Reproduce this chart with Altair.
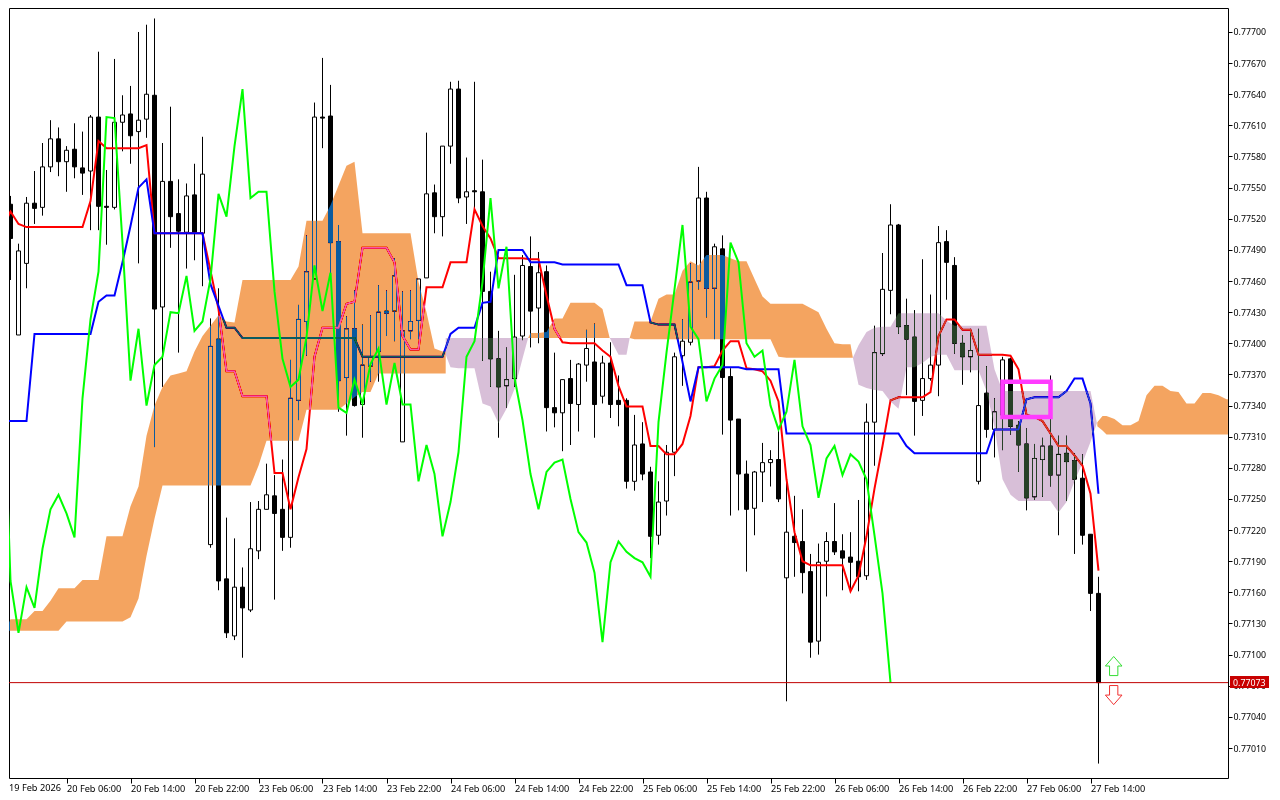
import json
import altair as alt
import pandas as pd

# All prices in 1e-5 units (points)
OPEN = [77588,77534,77408,77477,77535,77531,77570,77597,77575,77587,
77569,77566,77618,77532,77531,77613,77621,77604,77616,77639,
77435,77556,77525,77507,77543,77506,77206,77404,77173,77118,
77165,77143,77200,77240,77253,77240,77213,77345,77421,77462,
77618,77619,77498,77367,77414,77341,77378,77392,77431,77431,
77305,77412,77422,77463,77545,77522,77590,77645,77541,77547,
77546,77450,77385,77359,77366,77407,77474,77434,77469,77338,
77333,77366,77341,77379,77382,77349,77381,77345,77345,77267,
77303,77276,77215,77248,77295,77388,77401,77460,77540,77453,
77491,77368,77327,77274,77241,77276,77285,77288,77174,77214,
77209,77180,77113,77190,77209,77200,77194,77190,77176,77324,
77390,77451,77514,77417,77406,77345,77366,77379,77498,77475,
77400,77387,77267,77352,77317,77331,77385,77321,77303,77252,
77288,77301,77273,77294,77287,77270,77216,77159]
HIGH = [77588,77542,77496,77541,77566,77593,77615,77608,77590,77612,
77604,77620,77681,77567,77674,77639,77648,77700,77707,77713,
77593,77628,77558,77554,77573,77599,77424,77453,77232,77212,
77184,77247,77248,77284,77273,77288,77384,77437,77504,77632,
77675,77649,77514,77426,77451,77418,77427,77456,77451,77482,
77450,77451,77462,77603,77553,77590,77652,77653,77579,77652,
77577,77469,77412,77396,77466,77485,77503,77488,77475,77391,
77365,77384,77381,77413,77419,77388,77401,77369,77347,77331,
77324,77281,77267,77302,77391,77423,77477,77570,77546,77496,
77504,77376,77327,77287,77277,77304,77297,77316,77267,77253,
77240,77197,77207,77218,77246,77216,77218,77249,77342,77417,
77487,77534,77515,77443,77432,77481,77447,77513,77509,77483,
77408,77414,77414,77378,77347,77387,77386,77325,77318,77303,
77309,77369,77311,77311,77294,77293,77216,77175]
LOW = [77508,77461,77408,77453,77515,77523,77565,77561,77546,77559,
77543,77509,77509,77495,77529,77585,77573,77477,77598,77300,
77358,77492,77391,77472,77480,77455,77203,77162,77116,77114,
77097,77141,77192,77240,77153,77200,77203,77326,77388,77462,
77588,77460,77334,77311,77339,77309,77363,77363,77407,77402,
77305,77404,77404,77463,77506,77503,77573,77535,77515,77530,
77383,77358,77309,77338,77358,77403,77396,77400,77315,77319,
77296,77302,77315,77363,77309,77342,77328,77320,77260,77258,
77268,77193,77206,77234,77272,77359,77398,77452,77425,77404,
77312,77234,77239,77180,77215,77247,77262,77247,77055,77175,
77159,77097,77100,77156,77196,77162,77163,77161,77172,77282,
77388,77428,77409,77350,77311,77330,77364,77349,77442,77390,
77360,77372,77264,77309,77290,77297,77312,77276,77239,77249,
77252,77262,77215,77248,77197,77206,77142,76995]
CLOSE = [77532,77501,77489,77535,77530,77570,77597,77575,77586,77570,
77564,77618,77532,77531,77613,77620,77600,77615,77640,77433,
77556,77522,77508,77542,77506,77563,77397,77171,77121,77165,
77145,77202,77240,77254,77236,77213,77347,77423,77469,77618,
77617,77497,77364,77414,77340,77379,77387,77430,77429,77465,
77412,77421,77462,77544,77522,77590,77645,77540,77546,77546,
77450,77385,77358,77365,77406,77475,77431,77468,77338,77333,
77365,77342,77380,77395,77341,77381,77341,77341,77267,77302,
77274,77214,77247,77295,77387,77402,77459,77540,77453,77493,
77367,77326,77274,77240,77276,77285,77288,77250,77218,77208,
77179,77112,77189,77209,77199,77193,77189,77175,77324,77391,
77452,77514,77416,77404,77344,77366,77379,77497,77478,77400,
77387,77393,77340,77317,77334,77384,77320,77302,77251,77289,
77301,77273,77293,77286,77269,77215,77159,77073]

TENKAN = [77511,77527,77515,77512,77512,77512,77512,77512,77512,77512,
77512,77537,77595,77588,77588,77588,77588,77588,77591,77506,
77506,77506,77506,77506,77506,77506,77470,77433,77373,77373,
77349,77349,77349,77349,77275,77275,77240,77271,77298,77387,
77415,77415,77415,77438,77440,77492,77492,77492,77492,77478,
77407,77394,77394,77454,77454,77454,77478,77478,77478,77529,
77513,77501,77482,77482,77482,77482,77481,77481,77446,77414,
77401,77400,77400,77400,77400,77393,77387,77359,77339,77339,
77339,77301,77301,77293,77293,77303,77330,77377,77377,77378,
77393,77402,77402,77376,77375,77373,77364,77344,77269,77218,
77190,77186,77186,77186,77186,77186,77161,77176,77214,77260,
77301,77345,77348,77348,77348,77348,77353,77407,77423,77423,
77413,77413,77389,77389,77389,77389,77388,77375,77331,77329,
77325,77313,77301,77301,77292,77282,77255,77181]
KIJUN = [77325,77325,77325,77325,77409,77409,77409,77409,77409,77409,
77409,77409,77440,77446,77446,77478,77513,77550,77558,77506,
77506,77506,77506,77506,77506,77506,77457,77436,77415,77415,
77405,77405,77405,77405,77405,77405,77405,77405,77405,77405,
77405,77405,77405,77405,77405,77387,77387,77387,77387,77387,
77387,77387,77387,77387,77387,77387,77409,77415,77415,77415,
77439,77440,77490,77490,77490,77490,77478,77478,77478,77478,
77476,77476,77476,77476,77476,77476,77476,77476,77456,77456,
77456,77420,77418,77418,77418,77382,77344,77377,77377,77377,
77377,77377,77377,77375,77375,77375,77375,77375,77313,77313,
77313,77313,77313,77313,77313,77313,77313,77313,77313,77313,
77313,77313,77313,77301,77294,77294,77294,77294,77294,77294,
77294,77294,77294,77294,77317,77317,77317,77317,77346,77348,
77348,77348,77348,77354,77366,77366,77342,77255]
CHIKOU = [77397,77171,77121,77165,
77145,77202,77240,77254,77236,77213,77347,77423,77469,77618,
77617,77497,77364,77414,77340,77379,77387,77430,77429,77465,
77412,77421,77462,77544,77522,77590,77645,77540,77546,77546,
77450,77385,77358,77365,77406,77475,77431,77468,77338,77333,
77365,77342,77380,77395,77341,77381,77341,77341,77267,77302,
77274,77214,77247,77295,77387,77402,77459,77540,77453,77493,
77367,77326,77274,77240,77276,77285,77288,77250,77218,77208,
77179,77112,77189,77209,77199,77193,77189,77175,77324,77391,
77452,77514,77416,77404,77344,77366,77379,77497,77478,77400,
77387,77393,77340,77317,77334,77384,77320,77302,77251,77289,
77301,77273,77293,77286,77269,77215,77159,77073]

# Cloud segments: bar position, upper edge, lower edge
OA_X = [0.82]+list(range(1,56))+[55.4]
OA_UP = [77131,
77134,77134,77134,77142,77142,77152,77164,77164,77164,77172,
77172,77172,77214,77214,77214,77243,77262,77311,77340,77358,
77369,77371,77373,77392,77407,77417,77427,77421,77420,77461,
77461,77461,77461,77461,77461,77461,77474,77518,77518,77518,
77533,77552,77571,77575,77506,77506,77506,77506,77506,77506,
77506,77459,77430,77395,77392,77392]
OA_LO = [77123,
77123,77123,77123,77123,77123,77123,77123,77132,77132,77132,
77132,77132,77132,77132,77132,77136,77154,77195,77231,77263,
77263,77263,77263,77263,77263,77263,77263,77263,77263,77263,
77263,77282,77306,77306,77306,77306,77306,77336,77336,77336,
77336,77336,77342,77348,77353,77353,77371,77371,77371,77371,
77371,77371,77371,77371,77371,77371]
PA_X = [55.4,56,57,58,59,60,61,62,63,64,65,65.7]
PA_UP = [77405]*12
PA_LO = [77389,77377,77376,77376,77376,77342,77339,77323,77337,77356,77385,77405]
OB_X = [65.7,66,67,68,69,70,71,72,73,74,75,75.9]
OB_UP = [77405,77410,77410,77411,77424,77424,77439,77439,77439,77439,77433,77405]
OB_LO = [77405]*12
PB_X = [75.9,76,77,78,78.4]
PB_UP = [77405]*5
PB_LO = [77405,77404,77389,77389,77405]
OC_X = [78.4,79,80,81,82,83,84,85,86,87,88,89,90,91,92,93,94,95,96,97,98,99,100,101,102,103,104,105,106,106.3]
OC_UP = [77405,77421,77421,77421,77443,77447,77447,77470,77479,77475,77485,77485,77485,77482,77479,77479,77462,77445,77438,77438,77438,77438,77438,77434,77430,77414,77400,77399,77399,77386]
OC_LO = [77405,77404,77404,77404,77404,77404,77404,77404,77404,77404,77404,77404,77404,77404,77404,77404,77404,77404,77404,77387,77386,77386,77386,77386,77386,77386,77386,77386,77386,77386]
PC_X = [106.3]+list(range(107,137))+[136.8]
PC_UP = [77386,77398,77411,77415,77416,77416,77429,77429,77429,77429,77429,77429,77422,77417,77417,77417,77417,77417,77375,77354,77354,77354,77354,77354,77354,77354,77354,77354,77354,77354,77354,77323]
PC_LO = [77386,77360,77357,77355,77354,77344,77337,77377,77377,77381,77387,77389,77389,77374,77374,77374,77374,77354,77319,77269,77254,77248,77248,77248,77248,77248,77237,77247,77267,77285,77305,77323]
OD_X = [136.85,137.5,138,139,140,141,142,143,144,145,146,147,148,149,150,151,152,153,153.18]
OD_UP = [77324,77330,77330,77327,77321,77321,77325,77350,77359,77359,77354,77353,77342,77342,77352,77352,77350,77346,77346]
OD_LO = [77320,77316,77312,77312,77312,77312,77312,77312,77312,77312,77312,77312,77312,77312,77312,77312,77312,77312,77312]

Y_TICKS = [0.77010,0.77040,0.77070,0.77100,0.77130,0.77160,0.77190,0.77220,0.77250,0.77280,0.77310,0.77340,
           0.77370,0.77400,0.77430,0.77460,0.77490,0.77520,0.77550,0.77580,0.77610,0.77640,0.77670,0.77700]
X_TICKS = [8,16,24,32,40,48,56,64,72,80,88,96,104,112,120,128,136]
X_LABELS = ["20 Feb 06:00","20 Feb 14:00","20 Feb 22:00","23 Feb 06:00","23 Feb 14:00","23 Feb 22:00",
            "24 Feb 06:00","24 Feb 14:00","24 Feb 22:00","25 Feb 06:00","25 Feb 14:00","25 Feb 22:00",
            "26 Feb 06:00","26 Feb 14:00","26 Feb 22:00","27 Feb 06:00","27 Feb 14:00"]
FIRST_LABEL = "19 Feb 2026"
LAST_PRICE = 0.77073

FONT = "Noto Sans"
W, H = 1219, 770
xs = alt.Scale(domain=[0.8125, 153.1875], nice=False, zero=False, padding=0)
ys = alt.Scale(domain=[0.769811, 0.777231], nice=False, zero=False, padding=0)
x_axis = alt.Axis(
    values=X_TICKS, labelExpr=json.dumps(X_LABELS) + "[datum.value/8-1]",
    labelAlign="left", labelFlush=False, labelBound=False, labelOverlap=False,
    labelFont=FONT, labelFontSize=9.2, labelColor="black", labelPadding=1,
    tickColor="black", tickSize=5, domain=False, grid=False, title=None, orient="bottom")
y_axis = alt.Axis(
    values=Y_TICKS, format=".5f", orient="right",
    labelFont=FONT, labelFontSize=8.8, labelColor="black", labelPadding=1,
    labelOverlap=False, labelFlush=False, labelBound=False,
    tickColor="black", tickSize=4, domain=False, grid=False, title=None)
X = alt.X("i:Q", scale=xs, axis=x_axis)
Y = alt.Y("y:Q", scale=ys, axis=y_axis, stack=None)

candles = pd.DataFrame({"i": range(len(OPEN)), "o": OPEN, "h": HIGH, "l": LOW, "c": CLOSE})
for col in "ohlc":
    candles[col] = candles[col] / 1e5
candles["fill"] = ["black" if c < o else "white" for o, c in zip(candles.o, candles.c)]

def line_df(vals):
    return pd.DataFrame({"i": range(len(vals)), "y": [v / 1e5 for v in vals]})

wicks = alt.Chart(candles).mark_rule(color="black", strokeWidth=1, clip=True).encode(
    x=X, y=alt.Y("h:Q", scale=ys, axis=y_axis), y2="l:Q")
bodies = alt.Chart(candles).mark_bar(size=4, stroke="black", strokeWidth=1, clip=True).encode(
    x=X, y=alt.Y("o:Q", scale=ys, axis=y_axis), y2="c:Q", fill=alt.Fill("fill:N", scale=None))

def line(vals, color):
    return alt.Chart(line_df(vals)).mark_line(color=color, strokeWidth=2, clip=True).encode(x=X, y=Y)

def cloud(xv, up, lo, mask):
    df = pd.DataFrame({"i": xv, "y": [v / 1e5 for v in up], "y2": [v / 1e5 for v in lo]})
    return alt.Chart(df).mark_area(fill=mask, blend="difference", orient="vertical").encode(x=X, y=Y, y2="y2:Q")

ORANGE_MASK, THISTLE_MASK = "#0B5B9F", "#274027"
clouds = [
    cloud(OA_X, OA_UP, OA_LO, ORANGE_MASK), cloud(PA_X, PA_UP, PA_LO, THISTLE_MASK),
    cloud(OB_X, OB_UP, OB_LO, ORANGE_MASK), cloud(PB_X, PB_UP, PB_LO, THISTLE_MASK),
    cloud(OC_X, OC_UP, OC_LO, ORANGE_MASK), cloud(PC_X, PC_UP, PC_LO, THISTLE_MASK),
    cloud(OD_X, OD_UP, OD_LO, ORANGE_MASK),
]

price_df = pd.DataFrame({"y": [LAST_PRICE], "t": [f"{LAST_PRICE:.5f}"]})
price_line = alt.Chart(price_df).mark_rule(color="#C00000", strokeWidth=1).encode(y=Y)
price_box = alt.Chart(price_df).mark_rect(color="#C80000").encode(
    x=alt.value(W + 2), x2=alt.value(W + 41), y=alt.value(668), y2=alt.value(680))
price_txt = alt.Chart(price_df).mark_text(color="white", font=FONT, fontSize=8.8, align="left", baseline="middle").encode(
    x=alt.value(W + 5), y=Y, text="t:N")

box_df = pd.DataFrame({"i": [125.0], "i2": [131.0], "y": [0.77363], "y2": [0.77329]})
box = alt.Chart(box_df).mark_rect(fillOpacity=0, stroke="#FF3CFF", strokeWidth=4.5).encode(
    x=X, x2="i2:Q", y=Y, y2="y2:Q")

UP = "M0,-1.15 L1,0 L0.5,0 L0.5,1.15 L-0.5,1.15 L-0.5,0 L-1,0 Z"
DOWN = "M0,1.15 L1,0 L0.5,0 L0.5,-1.15 L-0.5,-1.15 L-0.5,0 L-1,0 Z"
up_arrow = alt.Chart(pd.DataFrame({"i": [138.9], "y": [0.77089]})).mark_point(
    shape=UP, size=276, fill="white", stroke="#33DD33", strokeWidth=1, opacity=1).encode(x=X, y=Y)
down_arrow = alt.Chart(pd.DataFrame({"i": [138.9], "y": [0.77061]})).mark_point(
    shape=DOWN, size=276, fill="white", stroke="#F03030", strokeWidth=1, opacity=1).encode(x=X, y=Y)

first_lbl = alt.Chart(pd.DataFrame({"t": [FIRST_LABEL]})).mark_text(
    font=FONT, fontSize=9.2, color="black", align="left", baseline="middle").encode(
    x=alt.value(0), y=alt.value(H + 10), text="t:N")

chart = alt.layer(
    wicks, bodies, line(TENKAN, "#FF0000"), line(KIJUN, "#0000FF"), *clouds,
    line(CHIKOU, "#00FF00"), price_line, box, up_arrow, down_arrow, price_box, price_txt, first_lbl,
).properties(width=W, height=H, background="white", padding=0).configure_view(stroke="black", strokeWidth=1)

chart.save("out.html", embed_options={"renderer": "svg", "actions": False})
